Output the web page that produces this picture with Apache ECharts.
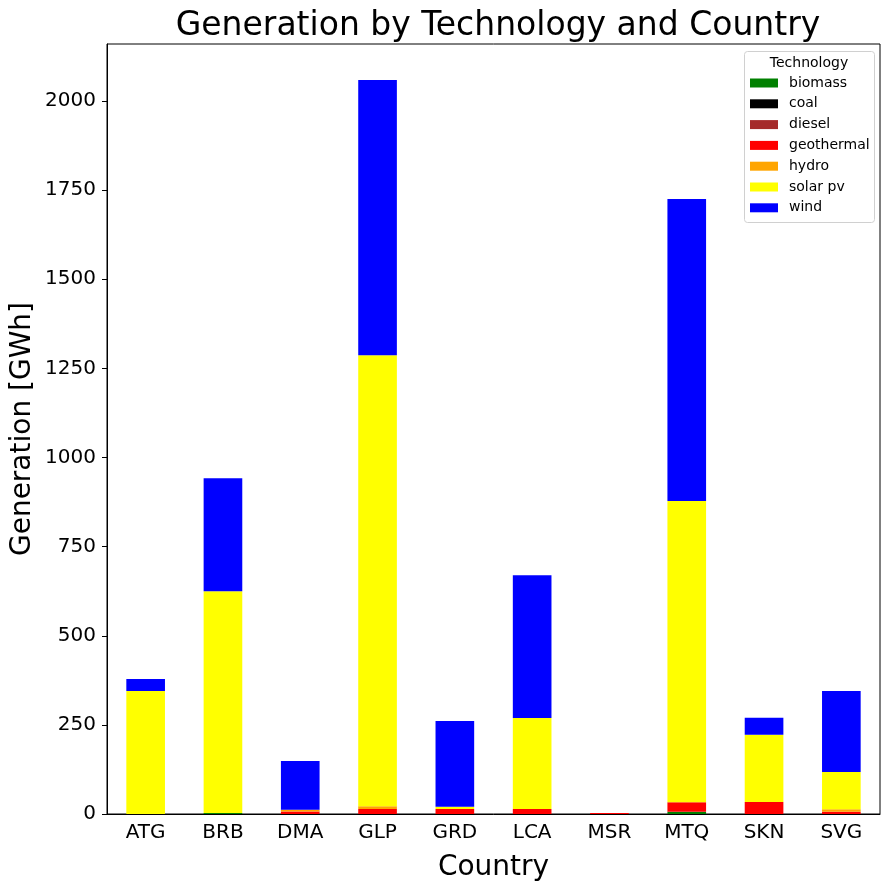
<!DOCTYPE html>
<html>
<head>
<meta charset="utf-8">
<script src="https://cdn.jsdelivr.net/npm/echarts@6/dist/echarts.min.js"></script>
<style>
  html, body { margin: 0; padding: 0; background: #fff; }
  #chart { width: 891px; height: 887px; }
</style>
</head>
<body>
<div id="chart"></div>
<script>
// countries along the x axis
var countries = ['ATG', 'BRB', 'DMA', 'GLP', 'GRD', 'LCA', 'MSR', 'MTQ', 'SKN', 'SVG'];

// generation per technology [GWh], same order as countries
var biomass    = [0, 3, 0, 0, 0, 0, 0, 6, 0, 0];
var coal       = [0, 0, 0, 0, 0, 0, 0, 0, 0, 0];
var diesel     = [0, 0, 0, 0, 0, 0, 0, 0, 0, 0];
var geothermal = [0, 0, 7, 14, 14, 14, 3, 27, 34, 6];
var hydro      = [0, 0, 5, 8, 0, 0, 0, 0, 0, 7];
var solarPv    = [345, 622, 0, 1265, 6, 255, 0, 845, 188, 105];
var wind       = [34, 317, 137, 772, 241, 401, 0, 847, 48, 227];

var technologies = ['biomass', 'coal', 'diesel', 'geothermal', 'hydro', 'solar pv', 'wind'];
var techData = [biomass, coal, diesel, geothermal, hydro, solarPv, wind];
var techColors = ['#008000', '#000000', '#a52a2a', '#ff0000', '#ffa500', '#ffff00', '#0000ff'];

var font = 'DejaVu Sans';

(function(){
    var myChart = echarts.init(document.getElementById('chart'));

    var series = technologies.map(function(name, i){
        return {
            name: name,
            type: 'bar',
            stack: 'total',
            barWidth: '50%',
            data: techData[i],
            itemStyle: { color: techColors[i] },
            emphasis: { disabled: true }
        };
    });

    var option = {
        animation: false,
        textStyle: { fontFamily: font },
        title: {
            text: 'Generation by Technology and Country',
            left: 493,
            top: 5,
            textAlign: 'center',
            textStyle: { fontFamily: font, fontSize: 33, fontWeight: 'normal', color: '#000' }
        },
        grid: {
            left: 107, right: 11, top: 44, bottom: 73,
            show: true, borderColor: '#000', borderWidth: 1,
            containLabel: false,
            outerBoundsMode: 'none'
        },
        legend: {
            orient: 'vertical',
            left: 750,
            top: 76,
            padding: 0,
            itemWidth: 28,
            itemHeight: 9,
            itemGap: 6.8,
            icon: 'rect',
            data: technologies,
            textStyle: {
                fontFamily: font, fontSize: 14, color: '#000',
                lineHeight: 14, padding: [0, 0, 0, 6]
            }
        },
        graphic: [
            {
                type: 'rect',
                shape: { x: 744.5, y: 51.5, width: 130, height: 171, r: 3 },
                style: { fill: 'rgba(255,255,255,0.8)', stroke: '#d0d0d0', lineWidth: 1 },
                z: 0
            },
            {
                type: 'text',
                style: {
                    x: 809, y: 56,
                    text: 'Technology', fontFamily: font, fontSize: 14,
                    fill: '#000', align: 'center', verticalAlign: 'top'
                },
                z: 1
            }
        ],
        xAxis: {
            type: 'category',
            data: countries,
            name: 'Country',
            nameLocation: 'middle',
            nameGap: 40,
            nameTextStyle: { fontFamily: font, fontSize: 28, color: '#000' },
            axisLine: { lineStyle: { color: '#000' } },
            axisTick: { alignWithLabel: true, length: 5, lineStyle: { color: '#000' } },
            axisLabel: { fontFamily: font, fontSize: 20, color: '#000', margin: 9 },
            splitLine: { show: false }
        },
        yAxis: {
            type: 'value',
            min: 0,
            max: 2160,
            interval: 250,
            name: 'Generation [GWh]',
            nameLocation: 'middle',
            nameGap: 70,
            nameMoveOverlap: false,
            nameTextStyle: { fontFamily: font, fontSize: 28, color: '#000' },
            axisLine: { show: true, lineStyle: { color: '#000' } },
            axisTick: { show: true, length: 5, lineStyle: { color: '#000' } },
            axisLabel: {
                fontFamily: font, fontSize: 20, color: '#000', margin: 11, showMaxLabel: false,
                formatter: function(v){ return String(v); }
            },
            splitLine: { show: false }
        },
        series: series
    };

    myChart.setOption(option);
    window.addEventListener('resize', function(){
        myChart.resize();
    });
})();
</script>
</body>
</html>
